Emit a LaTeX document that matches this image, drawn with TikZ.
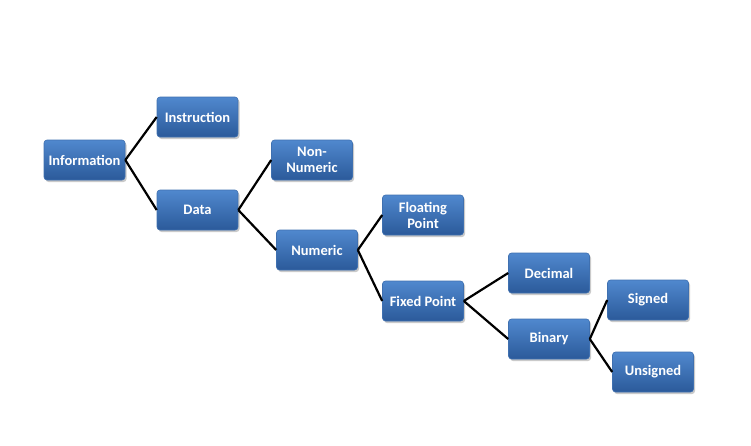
\documentclass[tikz,border=0pt]{standalone}
\usepackage{fontspec}
\setmainfont{Carlito}
\usetikzlibrary{shadows}
\definecolor{boxtop}{HTML}{5088CE}
\definecolor{boxbot}{HTML}{2B5A9A}
\definecolor{boxedge}{HTML}{3F70B0}
\tikzset{
  box/.style={rectangle, rounded corners=3pt, minimum width=81pt, minimum height=40pt,
    top color=boxtop, bottom color=boxbot, draw=boxedge, line width=0.6pt,
    text=white, font=\fontsize{14.5}{16}\selectfont\bfseries, align=center, inner sep=2pt,
    drop shadow={shadow xshift=1.5pt, shadow yshift=-2pt, opacity=0.35, fill=black!60}},
  link/.style={line width=2.2pt, black}
}
\begin{document}
\begin{tikzpicture}[x=1pt,y=-1pt]
\useasboundingbox (0,0) rectangle (751,445);
\node[box] (info) at (84.5,160) {Information};
\node[box] (instr) at (197.5,117) {Instruction};
\node[box] (data) at (197.5,210) {Data};
\node[box] (nonnum) at (312,160) {Non-\\Numeric};
\node[box] (num) at (317,250) {Numeric};
\node[box] (float) at (423,215) {Floating\\Point};
\node[box] (fixed) at (423,301) {Fixed Point};
\node[box] (dec) at (549,273) {Decimal};
\node[box] (bin) at (549,339) {Binary};
\node[box] (signed) at (648,300) {Signed};
\node[box] (unsigned) at (653,372) {Unsigned};
\draw[link] (info.east) -- (instr.west);
\draw[link] (info.east) -- (data.west);
\draw[link] (data.east) -- (nonnum.west);
\draw[link] (data.east) -- (num.west);
\draw[link] (num.east) -- (float.west);
\draw[link] (num.east) -- (fixed.west);
\draw[link] (fixed.east) -- (dec.west);
\draw[link] (fixed.east) -- (bin.west);
\draw[link] (bin.east) -- (signed.west);
\draw[link] (bin.east) -- (unsigned.west);
\end{tikzpicture}
\end{document}
